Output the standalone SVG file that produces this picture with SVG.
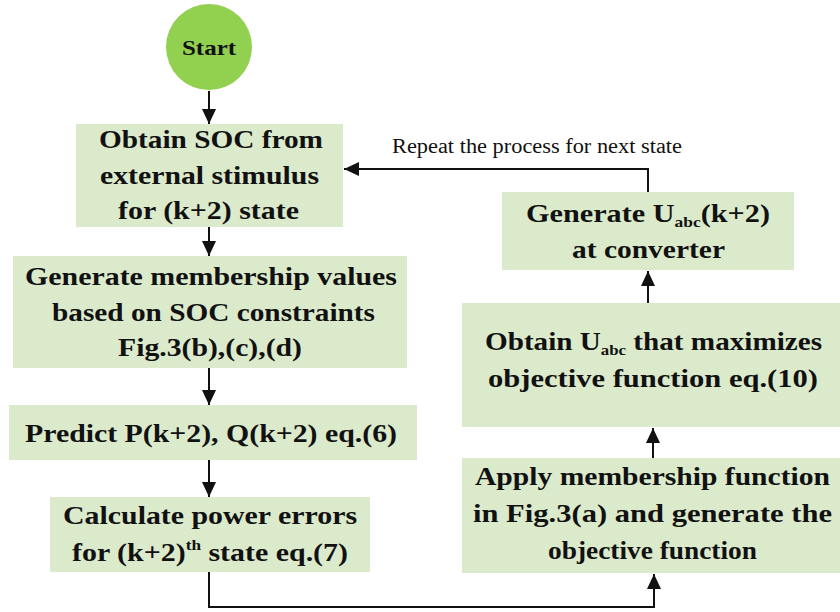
<svg xmlns="http://www.w3.org/2000/svg" width="840" height="612" viewBox="0 0 840 612">
  <defs>
    <style>
      .box { fill: #dceacc; }
      .start { fill: #92d050; }
      .t { font-family: 'Liberation Serif', serif; font-weight: bold; font-size: 26px; fill: #111; }
      .lbl { font-family: 'Liberation Serif', serif; font-size: 20px; fill: #111; }
      .sub { font-size: 15px; }
      .sup { font-size: 15px; }
      .wire { fill: none; stroke: #111; stroke-width: 2; }
    </style>
    <marker id="arrow" markerUnits="userSpaceOnUse" markerWidth="16" markerHeight="16" refX="15" refY="7" orient="auto">
      <path d="M0,0 L15,7 L0,14 Z" fill="#111"/>
    </marker>
  </defs>

  <rect width="840" height="612" fill="#ffffff"/>

  <!-- connectors -->
  <g id="connectors">
    <path class="wire" d="M209,91 L209,124" marker-end="url(#arrow)"/>
    <path class="wire" d="M209,227 L209,256" marker-end="url(#arrow)"/>
    <path class="wire" d="M209,368 L209,405" marker-end="url(#arrow)"/>
    <path class="wire" d="M209,460 L209,497" marker-end="url(#arrow)"/>
    <path class="wire" d="M209,572 L209,607 L654,607 L654,574" marker-end="url(#arrow)"/>
    <path class="wire" d="M653,458 L653,428" marker-end="url(#arrow)"/>
    <path class="wire" d="M648,303 L648,271" marker-end="url(#arrow)"/>
    <path class="wire" d="M648,192 L648,169 L344,169" marker-end="url(#arrow)"/>
    <text class="lbl" x="392" y="153" textLength="290" lengthAdjust="spacingAndGlyphs">Repeat the process for next state</text>
  </g>

  <!-- start -->
  <g id="start">
    <circle class="start" cx="209" cy="47" r="43"/>
    <text class="t" x="182" y="55" style="font-size:22px" textLength="54" lengthAdjust="spacingAndGlyphs">Start</text>
  </g>

  <!-- obtain SOC -->
  <g id="obtain-soc">
    <rect class="box" x="76" y="124" width="267" height="103"/>
    <text class="t" x="99" y="148" textLength="224" lengthAdjust="spacingAndGlyphs">Obtain SOC from</text>
    <text class="t" x="100" y="184" textLength="219" lengthAdjust="spacingAndGlyphs">external stimulus</text>
    <text class="t" x="118" y="219" textLength="181" lengthAdjust="spacingAndGlyphs">for (k+2) state</text>
  </g>

  <!-- membership values -->
  <g id="membership-values">
    <rect class="box" x="13" y="256" width="394" height="112"/>
    <text class="t" x="25" y="285" textLength="372" lengthAdjust="spacingAndGlyphs">Generate membership values</text>
    <text class="t" x="52" y="321" textLength="323" lengthAdjust="spacingAndGlyphs">based on SOC constraints</text>
    <text class="t" x="118" y="356" textLength="184" lengthAdjust="spacingAndGlyphs">Fig.3(b),(c),(d)</text>
  </g>

  <!-- predict -->
  <g id="predict">
    <rect class="box" x="9" y="405" width="408" height="55"/>
    <text class="t" x="25" y="442" textLength="372" lengthAdjust="spacingAndGlyphs">Predict P(k+2), Q(k+2) eq.(6)</text>
  </g>

  <!-- power errors -->
  <g id="power-errors">
    <rect class="box" x="50" y="497" width="320" height="75"/>
    <text class="t" x="63" y="524" textLength="294" lengthAdjust="spacingAndGlyphs">Calculate power errors</text>
    <text class="t" x="72" y="561" textLength="276" lengthAdjust="spacingAndGlyphs">for (k+2)<tspan class="sup" dy="-11">th</tspan><tspan dy="11"> state eq.(7)</tspan></text>
  </g>

  <!-- apply membership function -->
  <g id="apply-membership">
    <rect class="box" x="462" y="458" width="378" height="115"/>
    <text class="t" x="475" y="485" textLength="355" lengthAdjust="spacingAndGlyphs">Apply membership function</text>
    <text class="t" x="473" y="522" textLength="359" lengthAdjust="spacingAndGlyphs">in Fig.3(a) and generate the</text>
    <text class="t" x="548" y="559" textLength="209" lengthAdjust="spacingAndGlyphs">objective function</text>
  </g>

  <!-- maximize objective -->
  <g id="maximize">
    <rect class="box" x="462" y="303" width="378" height="124"/>
    <text class="t" x="485" y="350" textLength="337" lengthAdjust="spacingAndGlyphs">Obtain U<tspan class="sub" dy="5">abc</tspan><tspan dy="-5"> that maximizes</tspan></text>
    <text class="t" x="488" y="387" textLength="330" lengthAdjust="spacingAndGlyphs">objective function eq.(10)</text>
  </g>

  <!-- generate output -->
  <g id="generate-u">
    <rect class="box" x="502" y="192" width="292" height="78"/>
    <text class="t" x="526" y="222" textLength="244" lengthAdjust="spacingAndGlyphs">Generate U<tspan class="sub" dy="5">abc</tspan><tspan dy="-5">(k+2)</tspan></text>
    <text class="t" x="572" y="258" textLength="153" lengthAdjust="spacingAndGlyphs">at converter</text>
  </g>
</svg>
